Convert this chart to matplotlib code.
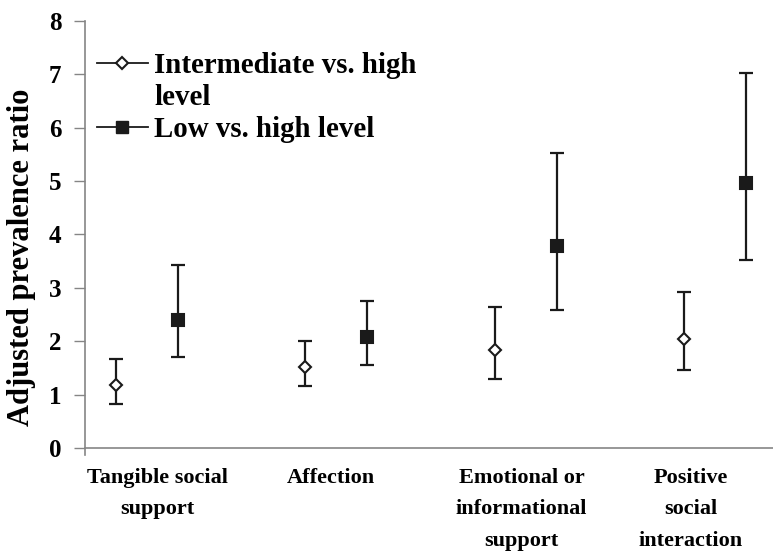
import matplotlib
matplotlib.use("Agg")
import matplotlib.pyplot as plt
import matplotlib.transforms as mtransforms
from matplotlib.lines import Line2D
import numpy as np

plt.rcParams['font.family'] = ['Liberation Serif', 'DejaVu Serif']
plt.rcParams['font.weight'] = 'bold'

categories = ["Tangible social\nsupport", "Affection",
              "Emotional or\ninformational\nsupport",
              "Positive\nsocial\ninteraction"]

# Intermediate vs. high level
inter_pr = [1.19, 1.52, 1.84, 2.04]
inter_lo = [0.82, 1.16, 1.30, 1.47]
inter_hi = [1.67, 2.01, 2.65, 2.92]

# Low vs. high level
low_pr = [2.39, 2.08, 3.78, 4.97]
low_lo = [1.70, 1.56, 2.58, 3.53]
low_hi = [3.43, 2.75, 5.53, 7.02]

series_labels = ["Intermediate vs. high", "level", "Low vs. high level"]
yticks = [0, 1, 2, 3, 4, 5, 6, 7, 8]

W, H = 773, 554
fig = plt.figure(figsize=(W / 100, H / 100), dpi=100)
ax = fig.add_axes([85 / W, 1 - 455 / H, 688 / W, (455 - 20.8) / H])

for s in ['top', 'right']:
    ax.spines[s].set_visible(False)
ax.spines['bottom'].set_position(('data', 0))
for s in ['left', 'bottom']:
    ax.spines[s].set_color('#858585')
    ax.spines[s].set_linewidth(1.2)

x = np.arange(len(categories))
off = 0.164

def draw(xs, pr, lo, hi, marker, face, ms):
    pr = np.array(pr); lo = np.array(lo); hi = np.array(hi)
    yerr = np.vstack([pr - lo, hi - pr])
    ax.errorbar(xs, pr, yerr=yerr, fmt='none', ecolor='#1a1a1a',
                elinewidth=1.6, capsize=5, capthick=1.6, zorder=2)
    ax.plot(xs, pr, linestyle='none', marker=marker, markersize=ms,
            markerfacecolor=face, markeredgecolor='#1a1a1a',
            markeredgewidth=1.5, zorder=3)

draw(x - off, inter_pr, inter_lo, inter_hi, 'D', 'white', 6)
draw(x + off, low_pr, low_lo, low_hi, 's', '#1a1a1a', 8)

ax.set_xlim(-0.3275, 3.307)
ax.set_ylim(-0.13, 8)
ax.set_yticks(yticks)
ax.set_yticklabels([str(t) for t in yticks])
ax.set_xticks(x)
ax.set_xticklabels(categories, linespacing=1.78)

ax.tick_params(axis='y', length=8, width=1.0, color='#858585', pad=9,
               direction='out', labelsize=18)
ax.tick_params(axis='x', length=0, pad=14, labelsize=16)

# small horizontal nudges of category labels (pixels)
label_dx = [10, -5, -4, -24]
for lab, dx in zip(ax.get_xticklabels(), label_dx):
    lab.set_transform(lab.get_transform() +
                      mtransforms.ScaledTranslation(dx / 100, 0, fig.dpi_scale_trans))
    lab.set_fontweight('bold')

ax.set_ylabel("Adjusted prevalence ratio", fontsize=22, fontweight='bold')
ax.yaxis.set_label_coords(-0.071, 0.455)

handles = [
    Line2D([], [], color='#1a1a1a', lw=1.3, marker='D', markersize=6,
           markerfacecolor='white', markeredgecolor='#1a1a1a', markeredgewidth=1.5),
    Line2D([], [], color='none', lw=0),
    Line2D([], [], color='#1a1a1a', lw=1.3, marker='s', markersize=8,
           markerfacecolor='#1a1a1a', markeredgecolor='#1a1a1a'),
]
leg = ax.legend(handles, series_labels, loc='upper left',
                bbox_to_anchor=(0.0174, 0.927), frameon=False,
                handlelength=1.75, handletextpad=0.22,
                labelspacing=0.16, borderpad=0, borderaxespad=0,
                prop={'weight': 'bold', 'size': 20.8})

fig.savefig("out.png", dpi=100)
